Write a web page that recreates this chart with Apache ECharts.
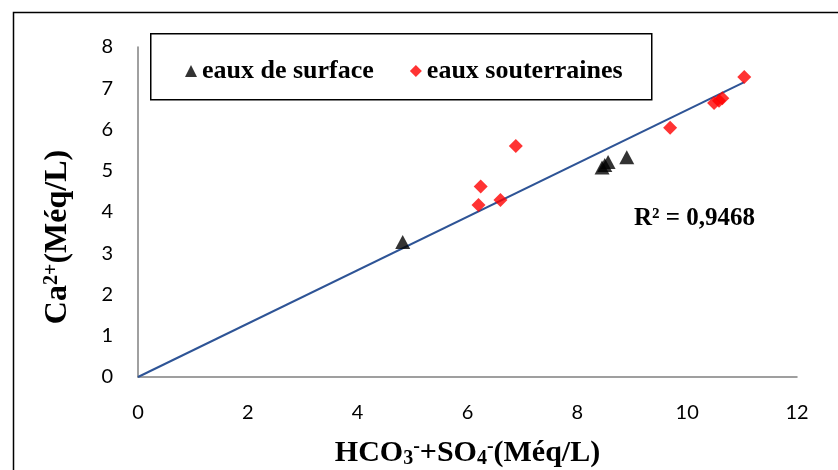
<!DOCTYPE html>
<html>
<head>
<meta charset="utf-8">
<script src="https://cdn.jsdelivr.net/npm/echarts@6/dist/echarts.min.js"></script>
<style>
  html, body { margin: 0; padding: 0; background: #fff; }
  #chart { width: 838px; height: 470px; }
</style>
</head>
<body>
<div id="chart"></div>
<script>
// Ca2+ against HCO3- + SO4-, both in méq/L
var surfaceLabel = 'eaux de surface';
var groundLabel = 'eaux souterraines';

// surface water samples [HCO3+SO4, Ca]
var surfaceWater = [
  [4.82, 3.27],
  [8.45, 5.08],
  [8.50, 5.14],
  [8.56, 5.21],
  [8.90, 5.33]
];

// groundwater samples [HCO3+SO4, Ca]
var groundWater = [
  [6.20, 4.17],
  [6.24, 4.62],
  [6.60, 4.29],
  [6.88, 5.60],
  [9.69, 6.04],
  [10.49, 6.64],
  [10.58, 6.70],
  [10.64, 6.76],
  [11.04, 7.27]
];

// linear trend through the origin, drawn between its two end points
var trendLine = [
  [0, 0],
  [11.04, 7.15]
];
var r2Text = 'R² = 0,9468';

var xTicks = { min: 0, max: 12, interval: 2 };
var yTicks = { min: 0, max: 8, interval: 1 };

var serif = '"Liberation Serif", "Times New Roman", serif';
var tickFont = 'Lato, "Open Sans", sans-serif';

var chart = echarts.init(document.getElementById('chart'));
chart.setOption({
  animation: false,
  backgroundColor: '#ffffff',
  grid: { left: 138, right: 41, top: 47, bottom: 93, containLabel: false, outerBoundsMode: 'none' },
  graphic: [
    {
      type: 'rect', left: 11, top: 10, z: 0,
      shape: { width: 900, height: 500 },
      style: { fill: 'none', stroke: '#000', lineWidth: 1.5 }
    },
    {
      type: 'rect', left: 150, top: 33, z: 5,
      shape: { width: 501, height: 66 },
      style: { fill: '#fff', stroke: '#000', lineWidth: 1.5 }
    },
    {
      type: 'text', left: 634, top: 206, z: 6,
      style: { text: r2Text, font: 'bold 25px ' + serif, fill: '#000' }
    }
  ],
  legend: {
    left: 180, top: 53, z: 10,
    itemWidth: 12, itemHeight: 12, itemGap: 36,
    textStyle: { fontFamily: serif, fontWeight: 'bold', fontSize: 26, color: '#000' },
    data: [
      { name: surfaceLabel, icon: 'triangle' },
      { name: groundLabel, icon: 'diamond' }
    ]
  },
  xAxis: {
    type: 'value',
    min: xTicks.min, max: xTicks.max, interval: xTicks.interval,
    splitLine: { show: false },
    axisTick: { show: false },
    axisLine: { show: true, onZero: false, lineStyle: { color: '#808080', width: 1.5 } },
    axisLabel: { margin: 26, color: '#000', fontFamily: tickFont, fontSize: 20 },
    name: 'HCO{sub|3}{sup|-}+SO{sub|4}{sup|-}(Méq/L)',
    nameLocation: 'middle', nameGap: 60,
    nameTextStyle: {
      fontFamily: serif, fontWeight: 'bold', fontSize: 30, color: '#000',
      rich: {
        sub: { fontFamily: serif, fontWeight: 'bold', fontSize: 20, color: '#000', verticalAlign: 'bottom', padding: [12, 0, 0, 0] },
        sup: { fontFamily: serif, fontWeight: 'bold', fontSize: 20, color: '#000', verticalAlign: 'top', padding: [0, 0, 12, 0] }
      }
    }
  },
  yAxis: {
    type: 'value',
    min: yTicks.min, max: yTicks.max, interval: yTicks.interval,
    splitLine: { show: false },
    axisTick: { show: false },
    axisLine: { show: true, onZero: false, lineStyle: { color: '#808080', width: 1.5 } },
    axisLabel: { margin: 25, color: '#000', fontFamily: tickFont, fontSize: 20 },
    name: 'Ca{sup|2+}(Méq/L)',
    nameLocation: 'middle', nameGap: 64, nameRotate: 90,
    nameTextStyle: {
      fontFamily: serif, fontWeight: 'bold', fontSize: 32, color: '#000',
      padding: [0, 50, 0, 0],
      rich: {
        sup: { fontFamily: serif, fontWeight: 'bold', fontSize: 20, color: '#000', verticalAlign: 'top', padding: [0, 0, 12, 0] }
      }
    }
  },
  series: [
    {
      name: 'trend', type: 'line', data: trendLine,
      symbol: 'none', z: 2,
      lineStyle: { color: '#2e5496', width: 2 }
    },
    {
      name: surfaceLabel, type: 'scatter', data: surfaceWater,
      symbol: 'triangle', symbolSize: [15, 14], z: 3,
      itemStyle: { color: '#000' }
    },
    {
      name: groundLabel, type: 'scatter', data: groundWater,
      symbol: 'diamond', symbolSize: 14, z: 3,
      itemStyle: { color: '#ff0000' }
    }
  ]
});
</script>
</body>
</html>
